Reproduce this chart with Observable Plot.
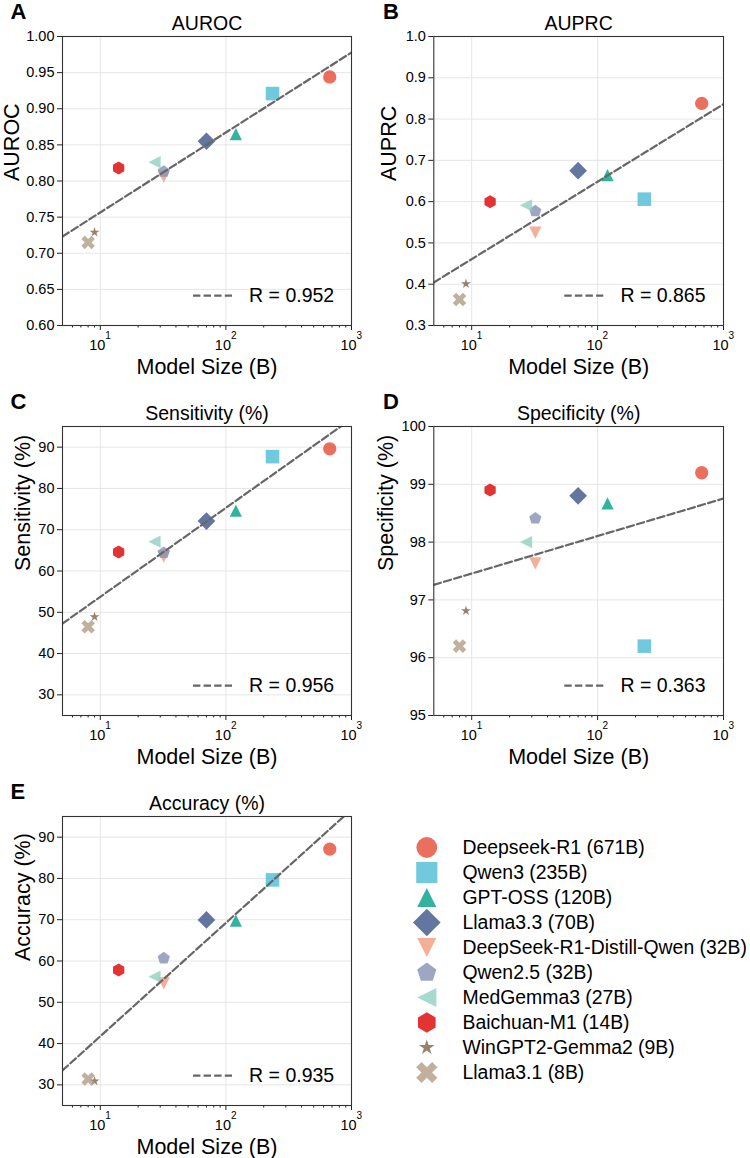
<!DOCTYPE html>
<html><head><meta charset="utf-8">
<script src="https://cdn.jsdelivr.net/npm/d3@7"></script>
<script src="https://cdn.jsdelivr.net/npm/@observablehq/plot@0.6"></script>
<style>
body{margin:0;background:#fff;}
#fig{position:relative;width:750px;height:1158px;overflow:hidden;}
.panel{position:absolute;}
.panel svg{overflow:visible;}
</style></head><body><div id="fig"></div>
<script>
const FONT = '"Liberation Sans", Arial, Helvetica, sans-serif';

// ---- data ----
const models = ["Deepseek-R1 (671B)", "Qwen3 (235B)", "GPT-OSS (120B)", "Llama3.3 (70B)",
  "DeepSeek-R1-Distill-Qwen (32B)", "Qwen2.5 (32B)", "MedGemma3 (27B)", "Baichuan-M1 (14B)",
  "WinGPT2-Gemma2 (9B)", "Llama3.1 (8B)"];
const sizes = [671, 235, 120, 70, 32, 32, 27, 14, 9, 8];
const colors = ["#E64B35", "#4DBBD5", "#00A087", "#3C5488", "#F39B7F", "#8491B4", "#91D1C2", "#DC0000", "#7E6148", "#B09C85"];
const shapes = ["circle", "square", "triangleUp", "diamond", "triangleDown", "pentagon", "triangleLeft", "hexagon", "star", "xFilled"];

const auroc = [0.944, 0.921, 0.865, 0.855, 0.806, 0.813, 0.826, 0.818, 0.729, 0.715];
const auprc = [0.838, 0.606, 0.664, 0.675, 0.525, 0.577, 0.591, 0.600, 0.401, 0.363];
const sensitivity = [89.6, 87.7, 74.6, 72.1, 63.5, 64.4, 67.1, 64.6, 48.9, 46.5];
const specificity = [99.2, 96.2, 98.67, 98.8, 97.63, 98.41, 98.0, 98.9, 96.81, 96.2];
const accuracy = [87.1, 79.65, 69.8, 69.95, 54.6, 60.65, 56.2, 57.8, 30.9, 31.4];

const panelLetters = ["A", "B", "C", "D", "E"];
const panelTitles = ["AUROC", "AUPRC", "Sensitivity (%)", "Specificity (%)", "Accuracy (%)"];
const yLabels = ["AUROC", "AUPRC", "Sensitivity (%)", "Specificity (%)", "Accuracy (%)"];
const rLabels = ["R = 0.952", "R = 0.865", "R = 0.956", "R = 0.363", "R = 0.935"];
const xLabel = "Model Size (B)";

const xDomain = [5, 1000];
const xMajor = [10, 100, 1000];
const xGrid = [10, 100];
const xMinor = [6, 7, 8, 9, 20, 30, 40, 50, 60, 70, 80, 90, 200, 300, 400, 500, 600, 700, 800, 900];

const yTicksAuroc = [0.60, 0.65, 0.70, 0.75, 0.80, 0.85, 0.90, 0.95, 1.00];
const yTicksAuprc = [0.3, 0.4, 0.5, 0.6, 0.7, 0.8, 0.9, 1.0];
const yTicksPct = [30, 40, 50, 60, 70, 80, 90];
const yTicksSpec = [95, 96, 97, 98, 99, 100];

// ---- marker shapes ----
function poly(ctx, pts) {
  ctx.moveTo(pts[0][0], pts[0][1]);
  for (let i = 1; i < pts.length; i++) ctx.lineTo(pts[i][0], pts[i][1]);
  ctx.closePath();
}
function regular(n, R, start) {
  const pts = [];
  for (let k = 0; k < n; k++) {
    const a = (start + k * 360 / n) * Math.PI / 180;
    pts.push([R * Math.cos(a), R * Math.sin(a)]);
  }
  return pts;
}
const rad = size => Math.sqrt(size / Math.PI);
const symbolDefs = {
  circle: {draw(ctx, size) { const r = rad(size); ctx.moveTo(r, 0); ctx.arc(0, 0, r, 0, 2 * Math.PI); ctx.closePath(); }},
  square: {draw(ctx, size) { const h = rad(size) * 1.02; ctx.rect(-h, -h, 2 * h, 2 * h); }},
  triangleUp: {draw(ctx, size) { const h = rad(size) * 0.92; poly(ctx, [[0, -h], [-h, h], [h, h]]); }},
  triangleDown: {draw(ctx, size) { const h = rad(size) * 0.92; poly(ctx, [[0, h], [-h, -h], [h, -h]]); }},
  triangleLeft: {draw(ctx, size) { const h = rad(size) * 0.92; poly(ctx, [[-h, 0], [h, -h], [h, h]]); }},
  diamond: {draw(ctx, size) { const h = rad(size) * 1.33; poly(ctx, [[0, -h], [h, 0], [0, h], [-h, 0]]); }},
  pentagon: {draw(ctx, size) { poly(ctx, regular(5, rad(size) * 0.97, -90)); }},
  hexagon: {draw(ctx, size) { poly(ctx, regular(6, rad(size) * 0.98, -90)); }},
  star: {draw(ctx, size) {
    const R = rad(size) * 0.78, r = R * 0.382, pts = [];
    for (let k = 0; k < 10; k++) {
      const a = (-90 + k * 36) * Math.PI / 180, q = k % 2 ? r : R;
      pts.push([q * Math.cos(a), q * Math.sin(a)]);
    }
    poly(ctx, pts);
  }},
  xFilled: {draw(ctx, size) {
    const h = rad(size) * 1.02;
    const v = [[-0.5, -1], [0, -0.5], [0.5, -1], [1, -0.5], [0.5, 0], [1, 0.5], [0.5, 1], [0, 0.5], [-0.5, 1], [-1, 0.5], [-0.5, 0], [-1, -0.5]];
    poly(ctx, v.map(([a, b]) => [a * h, b * h]));
  }}
};
const symbolScale = {domain: models, range: shapes.map(s => symbolDefs[s])};
const colorScale = {domain: models, range: colors};

// ---- regression on log10(size) ----
function fitLine(values) {
  const lx = sizes.map(Math.log10);
  const mx = d3.mean(lx), my = d3.mean(values);
  let sxy = 0, sxx = 0;
  lx.forEach((x, i) => { sxy += (x - mx) * (values[i] - my); sxx += (x - mx) ** 2; });
  const b = sxy / sxx;
  return xDomain.map(x => ({size: x, value: my + b * (Math.log10(x) - mx)}));
}

const svgns = "http://www.w3.org/2000/svg";
function legendSample() {
  return (index, scales, values, dims) => {
    const g = document.createElementNS(svgns, "g");
    const line = document.createElementNS(svgns, "line");
    const x1 = dims.marginLeft + 131, y = dims.height - dims.marginBottom - 29.3;
    line.setAttribute("x1", x1); line.setAttribute("x2", x1 + 39);
    line.setAttribute("y1", y); line.setAttribute("y2", y);
    line.setAttribute("stroke", "#666"); line.setAttribute("stroke-width", 2.2);
    line.setAttribute("stroke-dasharray", "7.4 3.2");
    g.appendChild(line);
    return g;
  };
}

const fig = document.getElementById("fig");

function panel(i, values, yDomain, yTicks, yFmt, col, row, labelOffset) {
  const marginLeft = col === 0 ? 62 : 58.3;
  const marginRight = col === 0 ? 24 : 27;
  const rows = models.map((m, k) => ({model: m, size: sizes[k], value: values[k]}));
  const fit = fitLine(values);
  const plot = Plot.plot({
    width: 375, height: 390,
    marginTop: 36, marginBottom: 65, marginLeft, marginRight,
    style: {fontFamily: FONT, color: "#000", background: "transparent", overflow: "visible"},
    x: {type: "log", domain: xDomain},
    y: {domain: yDomain},
    symbol: symbolScale,
    color: colorScale,
    marks: [
      Plot.gridY(yTicks, {stroke: "#e6e6e6", strokeOpacity: 1, strokeWidth: 1}),
      Plot.gridX(xGrid, {stroke: "#e6e6e6", strokeOpacity: 1, strokeWidth: 1}),
      Plot.axisY(yTicks, {tickSize: 5, tickPadding: 3, fontSize: 14.5, tickFormat: d3.format(yFmt), label: null, stroke: "#222"}),
      Plot.axisX(xMajor, {tickSize: 5, tickFormat: () => "", label: null, stroke: "#222"}),
      Plot.axisX(xMinor, {tickSize: 2.5, tickFormat: () => "", label: null, stroke: "#222"}),
      Plot.text(xMajor, {x: d => d, text: () => "10", frameAnchor: "bottom", dy: 20, dx: -3, fontSize: 14.5, lineAnchor: "middle"}),
      Plot.text(xMajor, {x: d => d, text: d => String(Math.round(Math.log10(d))), frameAnchor: "bottom", dy: 10.5, dx: 5, textAnchor: "start", fontSize: 10, lineAnchor: "middle"}),
      Plot.dot(rows, {x: "size", y: "value", symbol: "model", fill: "model", fillOpacity: 0.8, stroke: "none", r: 6.65}),
      Plot.line(fit, {x: "size", y: "value", stroke: "#666", strokeWidth: 2.2, strokeDasharray: "7.4 3.2", clip: true}),
      Plot.frame({stroke: "#333", strokeWidth: 1.1}),
      legendSample(),
      Plot.text([rLabels[i]], {text: d => d, frameAnchor: "bottom-left", dx: 186.6, dy: -29.3, textAnchor: "start", lineAnchor: "middle", fontSize: 19.5}),
      Plot.text([panelTitles[i]], {text: d => d, frameAnchor: "top", dy: -12.7, fontSize: 19.5, lineAnchor: "middle"}),
      Plot.text([panelLetters[i]], {text: d => d, frameAnchor: "top-left", dx: (col === 0 ? 10 : 7.5) - marginLeft, dy: -25, fontSize: 22, fontWeight: "bold", lineAnchor: "middle"}),
      Plot.text([yLabels[i]], {text: d => d, frameAnchor: "left", rotate: -90, dx: -labelOffset, fontSize: 21.5, lineAnchor: "middle"}),
      Plot.text([xLabel], {text: d => d, frameAnchor: "bottom", dy: 42, fontSize: 21.5, lineAnchor: "middle"})
    ]
  });
  const div = document.createElement("div");
  div.className = "panel";
  div.style.left = (col * 375) + "px";
  div.style.top = (row * 390) + "px";
  div.appendChild(plot);
  fig.appendChild(div);
}

panel(0, auroc, [0.6, 1.0], yTicksAuroc, ".2f", 0, 0, 50);
panel(1, auprc, [0.3, 1.0], yTicksAuprc, ".1f", 1, 0, 45);
panel(2, sensitivity, [25, 95], yTicksPct, "d", 0, 1, 39);
panel(3, specificity, [95, 100], yTicksSpec, "d", 1, 1, 48);
panel(4, accuracy, [25, 95], yTicksPct, "d", 0, 2, 39);

// legend
const legend = Plot.plot({
  width: 375, height: 378, margin: 0,
  style: {fontFamily: FONT, color: "#000", background: "transparent", overflow: "visible"},
  y: {type: "point", domain: models, range: [51, 307], axis: null},
  symbol: symbolScale,
  color: colorScale,
  marks: [
    Plot.dot(models, {y: d => d, frameAnchor: "left", dx: 51.3, symbol: d => d, fill: d => d, fillOpacity: 0.8, stroke: "none", r: 10.4}),
    Plot.text(models, {y: d => d, text: d => d, frameAnchor: "left", dx: 87, textAnchor: "start", lineAnchor: "middle", fontSize: 19.4})
  ]
});
const ldiv = document.createElement("div");
ldiv.className = "panel";
ldiv.style.left = "375px";
ldiv.style.top = "780px";
ldiv.appendChild(legend);
fig.appendChild(ldiv);
</script>
</body></html>
